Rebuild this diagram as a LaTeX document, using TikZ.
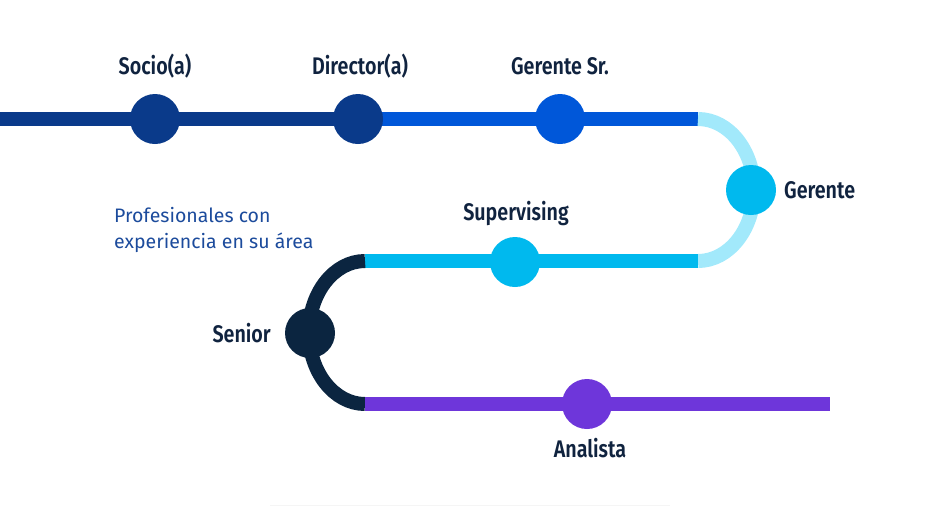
\documentclass[tikz,border=0pt]{standalone}
\usepackage{fontspec}
\setmainfont{Fira Sans}
\newfontfamily\condfont[FakeStretch=0.82]{Fira Sans SemiBold}
\begin{document}
\begin{tikzpicture}[x=1pt,y=-1pt,
  ln/.style={line width=14pt},
  dot/.style={circle,minimum size=50pt,inner sep=0pt},
  lab/.style={font=\condfont\fontsize{24}{28}\selectfont,text=labc,inner sep=0pt}]
\definecolor{navy}{HTML}{0A3A8A}
\definecolor{blu}{HTML}{0057D9}
\definecolor{lcyan}{HTML}{A2E9FB}
\definecolor{cyan}{HTML}{00B9EE}
\definecolor{dk}{HTML}{0B2540}
\definecolor{purp}{HTML}{6E36DA}
\definecolor{labc}{HTML}{10233F}
\definecolor{txtb}{HTML}{1C4B9C}
\useasboundingbox (0,0) rectangle (950,507);
\coordinate (a0) at (0,119);
\coordinate (a1) at (698,119);
\coordinate (a2) at (698,261);
\coordinate (a3) at (365,261);
\coordinate (a4) at (365,404);
\coordinate (a5) at (830,404);
\draw[ln,navy] (a0) -- (358,119);
\draw[ln,blu] (358,119) -- (a1);
\draw[ln,lcyan] (a1) arc[start angle=-90,end angle=90,x radius=56,y radius=71];
\draw[ln,cyan] (a2) -- (a3);
\draw[ln,dk] (a3) arc[start angle=-90,end angle=-270,x radius=56,y radius=71.5];
\draw[ln,purp] (a4) -- (a5);
\draw[line width=1pt,black!4] (270,505) -- (670,505);
\node[dot,fill=navy] (socio) at (155,119) {};
\node[dot,fill=navy] (dir) at (358,119) {};
\node[dot,fill=blu] (gsr) at (560,119) {};
\node[dot,fill=cyan] (ger) at (751,190) {};
\node[dot,fill=cyan] (sup) at (515,262) {};
\node[dot,fill=dk] (sen) at (310,333) {};
\node[dot,fill=purp] (ana) at (587,404) {};
\node[lab] at (155,66) {Socio(a)};
\node[lab] at (360,66) {Director(a)};
\node[lab] at (560,66) {Gerente Sr.};
\node[lab,anchor=west] at (784,190) {Gerente};
\node[lab] at (516,213) {Supervising};
\node[lab,anchor=east] at (271,333) {Senior};
\node[lab] at (590,448) {Analista};
\node[anchor=west,align=left,text=txtb,font=\fontsize{19.5}{26}\selectfont,inner sep=0pt] at (114,230) {Profesionales con\\experiencia en su área};
\end{tikzpicture}
\end{document}
